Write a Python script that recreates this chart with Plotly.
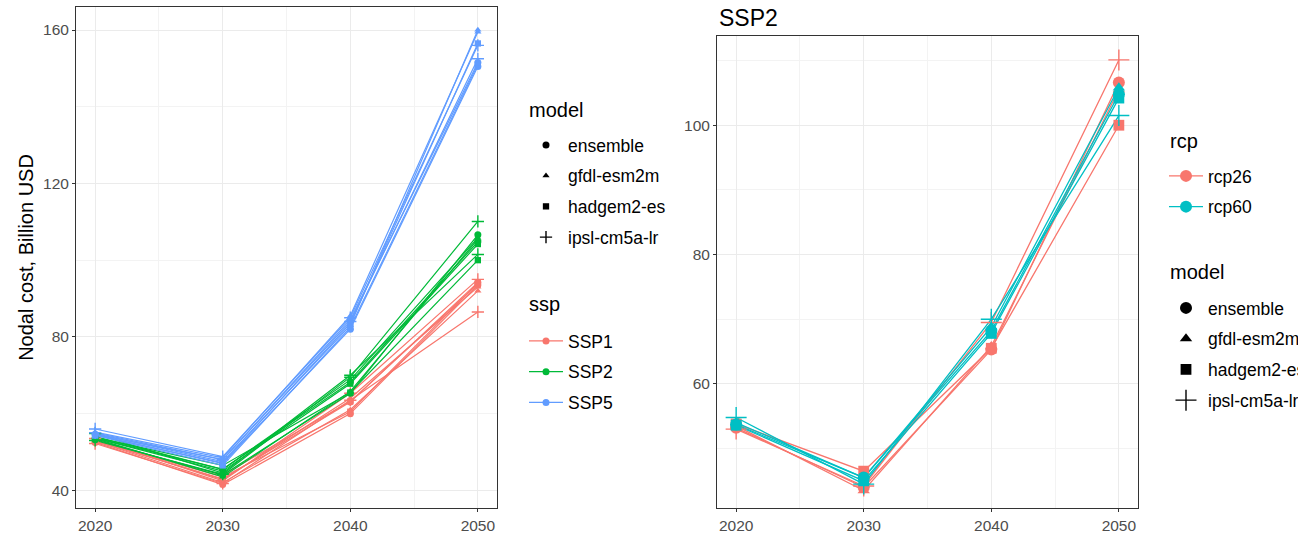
import plotly.graph_objects as go

W, H = 1298, 537

years = [2020, 2030, 2040, 2050]
models = ["ensemble", "gfdl-esm2m", "hadgem2-es", "ipsl-cm5a-lr"]
ssps = ["SSP1", "SSP2", "SSP5"]
rcps = ["rcp26", "rcp60"]

# Nodal cost (Billion USD) by ssp -> rcp -> model, one value per year
ssp1_rcp26 = {
    "ensemble": [52.5, 41.5, 60.0, 93.5],
    "gfdl-esm2m": [52.8, 42.0, 61.0, 92.0],
    "hadgem2-es": [53.0, 43.5, 60.5, 94.0],
    "ipsl-cm5a-lr": [52.2, 41.8, 63.5, 86.5],
}
ssp1_rcp60 = {
    "ensemble": [52.8, 43.0, 63.0, 94.2],
    "gfdl-esm2m": [53.2, 42.8, 64.0, 93.0],
    "hadgem2-es": [53.0, 44.0, 63.2, 93.8],
    "ipsl-cm5a-lr": [53.5, 42.5, 65.3, 95.0],
}
ssp2_rcp26 = {
    "ensemble": [53.2, 44.0, 65.3, 106.6],
    "gfdl-esm2m": [53.5, 43.5, 65.8, 105.5],
    "hadgem2-es": [53.8, 46.5, 65.5, 100.0],
    "ipsl-cm5a-lr": [53.0, 44.2, 69.5, 110.1],
}
ssp2_rcp60 = {
    "ensemble": [53.7, 45.5, 68.2, 104.8],
    "gfdl-esm2m": [54.0, 45.5, 68.8, 105.8],
    "hadgem2-es": [53.6, 45.0, 67.8, 104.2],
    "ipsl-cm5a-lr": [54.8, 44.5, 70.0, 101.5],
}
ssp5_rcp26 = {
    "ensemble": [54.5, 47.0, 82.0, 150.5],
    "gfdl-esm2m": [54.8, 47.5, 83.0, 160.0],
    "hadgem2-es": [54.3, 46.5, 82.5, 151.0],
    "ipsl-cm5a-lr": [55.0, 48.0, 84.0, 152.5],
}
ssp5_rcp60 = {
    "ensemble": [54.6, 48.0, 84.5, 151.5],
    "gfdl-esm2m": [55.2, 48.5, 85.5, 159.5],
    "hadgem2-es": [54.4, 47.2, 83.5, 156.5],
    "ipsl-cm5a-lr": [56.0, 48.8, 85.0, 156.0],
}

data = {
    "SSP1": {"rcp26": ssp1_rcp26, "rcp60": ssp1_rcp60},
    "SSP2": {"rcp26": ssp2_rcp26, "rcp60": ssp2_rcp60},
    "SSP5": {"rcp26": ssp5_rcp26, "rcp60": ssp5_rcp60},
}

ssp_colors = {"SSP1": "#F8766D", "SSP2": "#00BA38", "SSP5": "#619CFF"}
rcp_colors = {"rcp26": "#F8766D", "rcp60": "#00BFC4"}
symbols = {
    "ensemble": "circle",
    "gfdl-esm2m": "triangle-up",
    "hadgem2-es": "square",
    "ipsl-cm5a-lr": "cross-thin",
}

FONT = "Liberation Sans, Arial, sans-serif"
fig = go.Figure()


def marker_style(model, color, size):
    if symbols[model] == "cross-thin":
        return dict(symbol="cross-thin", size=size * 1.25, color=color,
                    line=dict(color=color, width=1.4))
    s = size * (0.9 if symbols[model] != "circle" else 1.0)
    return dict(symbol=symbols[model], size=s, color=color, line=dict(width=0))


# Left panel: all scenarios, coloured by ssp
for ssp in ssps:
    for rcp in rcps:
        for m in models:
            fig.add_trace(go.Scatter(
                x=years, y=data[ssp][rcp][m], mode="lines",
                line=dict(color=ssp_colors[ssp], width=1.2),
                showlegend=False, hoverinfo="skip", xaxis="x", yaxis="y"))
for ssp in ssps:
    for rcp in rcps:
        for m in models:
            fig.add_trace(go.Scatter(
                x=years, y=data[ssp][rcp][m], mode="markers",
                marker=marker_style(m, ssp_colors[ssp], 7),
                showlegend=False, xaxis="x", yaxis="y"))

# Right panel: SSP2 only, coloured by rcp
for rcp in rcps:
    for m in models:
        fig.add_trace(go.Scatter(
            x=years, y=data["SSP2"][rcp][m], mode="lines",
            line=dict(color=rcp_colors[rcp], width=1.3),
            showlegend=False, hoverinfo="skip", xaxis="x2", yaxis="y2"))
for rcp in rcps:
    for m in models:
        fig.add_trace(go.Scatter(
            x=years, y=data["SSP2"][rcp][m], mode="markers",
            marker=marker_style(m, rcp_colors[rcp], 12),
            showlegend=False, xaxis="x2", yaxis="y2"))

# Legend keys
for m in models:
    fig.add_trace(go.Scatter(x=[None], y=[None], mode="markers", name=m,
                             marker=marker_style(m, "black", 7),
                             legend="legend", legendgroup="lm" + m,
                             xaxis="x", yaxis="y"))
for ssp in ssps:
    fig.add_trace(go.Scatter(x=[None], y=[None], mode="lines+markers", name=ssp,
                             line=dict(color=ssp_colors[ssp], width=1.2),
                             marker=dict(symbol="circle", size=7, color=ssp_colors[ssp]),
                             legend="legend2", legendgroup="ls" + ssp,
                             xaxis="x", yaxis="y"))
for rcp in rcps:
    fig.add_trace(go.Scatter(x=[None], y=[None], mode="lines+markers", name=rcp,
                             line=dict(color=rcp_colors[rcp], width=1.3),
                             marker=dict(symbol="circle", size=12, color=rcp_colors[rcp]),
                             legend="legend3", legendgroup="lr" + rcp,
                             xaxis="x2", yaxis="y2"))
for m in models:
    fig.add_trace(go.Scatter(x=[None], y=[None], mode="markers", name=m,
                             marker=marker_style(m, "black", 12),
                             legend="legend4", legendgroup="rm" + m,
                             xaxis="x2", yaxis="y2"))


def px_x(p):
    return p / W


def px_y(p):
    return 1 - p / H


axis_common = dict(
    showline=True, mirror=True, linecolor="#333333", linewidth=1,
    ticks="outside", ticklen=3, tickcolor="#333333", tickwidth=1,
    showgrid=True, gridcolor="#EBEBEB", gridwidth=1, zeroline=False,
    tickfont=dict(family=FONT, size=15.5, color="#4D4D4D"),
)

fig.update_layout(
    width=W, height=H, margin=dict(l=0, r=0, t=0, b=0, autoexpand=False),
    paper_bgcolor="white", plot_bgcolor="white",
    font=dict(family=FONT, color="black"),
    xaxis=dict(domain=[px_x(76), px_x(497)], range=[2018.5, 2051.5],
               tickvals=years, anchor="y",
               minor=dict(dtick=5, tick0=2015, showgrid=True, gridcolor="#F3F3F3", ticks=""),
               **axis_common),
    yaxis=dict(domain=[px_y(508), px_y(7)], range=[35.4, 166.0],
               tickvals=[40, 80, 120, 160], anchor="x",
               minor=dict(tickvals=[60, 100, 140], showgrid=True, gridcolor="#F3F3F3", ticks=""),
               title=dict(text="Nodal cost, Billion USD", standoff=4,
                          font=dict(family=FONT, size=20, color="black")),
               **axis_common),
    xaxis2=dict(domain=[px_x(717), px_x(1138)], range=[2018.5, 2051.5],
                tickvals=years, anchor="y2",
                minor=dict(dtick=5, tick0=2015, showgrid=True, gridcolor="#F3F3F3", ticks=""),
                **axis_common),
    yaxis2=dict(domain=[px_y(508), px_y(36)], range=[40.8, 113.8],
                tickvals=[60, 80, 100], anchor="x2",
                minor=dict(tickvals=[50, 70, 90, 110], showgrid=True, gridcolor="#F3F3F3", ticks=""),
                **axis_common),
)

# Panel title and legend titles
titles = [
    ("SSP2", 717, 18, 23),
    ("model", 527, 110, 20),
    ("ssp", 527, 304, 20),
    ("rcp", 1168, 141, 20),
    ("model", 1168, 272, 20),
]
for text, tx, ty, size in titles:
    fig.add_annotation(text=text, x=px_x(tx), y=px_y(ty), xref="paper", yref="paper",
                       xanchor="left", yanchor="middle", showarrow=False,
                       font=dict(family=FONT, size=size, color="black"))

legend_common = dict(
    xanchor="left", yanchor="top", bgcolor="rgba(0,0,0,0)",
    font=dict(family=FONT, size=17.5, color="black"),
    tracegroupgap=5, itemwidth=34,
)

fig.update_layout(
    legend=dict(x=px_x(524), y=px_y(127), **legend_common),
    legend2=dict(x=px_x(524), y=px_y(323), **legend_common),
    legend3=dict(x=px_x(1164), y=px_y(158), **legend_common),
    legend4=dict(x=px_x(1164), y=px_y(290), **legend_common),
)

fig.write_html("out.html")
